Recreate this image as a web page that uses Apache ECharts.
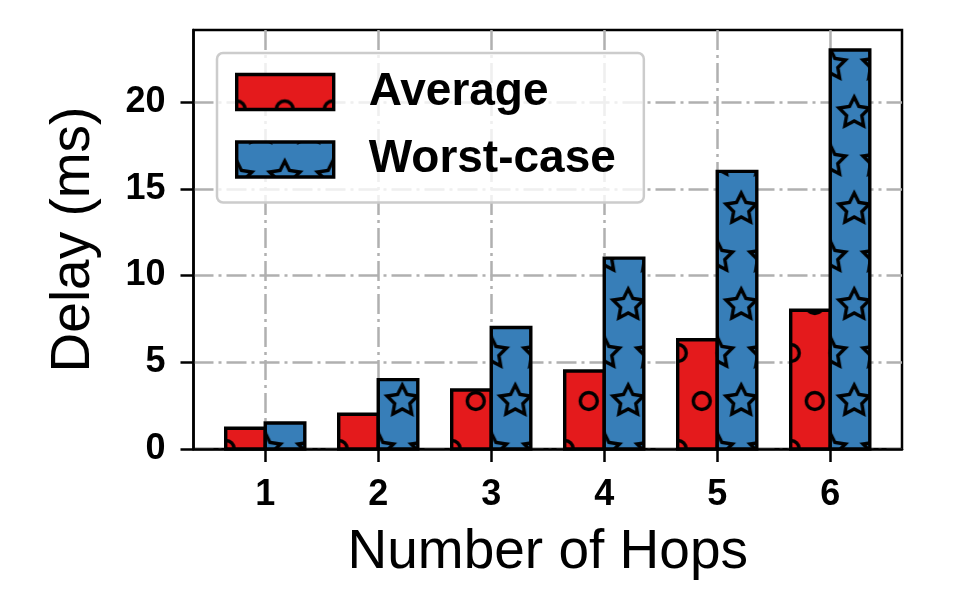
<!DOCTYPE html>
<html>
<head>
<meta charset="utf-8">
<script src="https://cdn.jsdelivr.net/npm/echarts@6/dist/echarts.min.js"></script>
<style>
  html, body { margin: 0; padding: 0; background: #fff; }
  #chart { width: 969px; height: 599px; }
</style>
</head>
<body>
<div id="chart"></div>
<script>
const hops = [1, 2, 3, 4, 5, 6];
const averageDelay = [1.2, 2.0, 3.4, 4.5, 6.3, 8.0];
const worstDelay = [1.5, 4.0, 7.0, 11.0, 16.0, 23.0];
const yTicks = [0, 5, 10, 15, 20];

const FONT = "'Liberation Sans', Arial, Helvetica, sans-serif";
const RED = "#e41a1c";
const BLUE = "#377eb8";
const HATCH = 48;   // hatch cell size in px
const BAR_W = 0.35; // bar width in x units

// hatch tile: shapes on a square grid, every other row shifted by half a cell
function hatchTile(bg, shape) {
  const c = document.createElement("canvas");
  c.width = HATCH;
  c.height = HATCH * 2;
  const ctx = c.getContext("2d");
  ctx.fillStyle = bg;
  ctx.fillRect(0, 0, c.width, c.height);
  ctx.strokeStyle = "#000";
  ctx.lineWidth = 3.4;
  const pts = [[0, 0], [HATCH, 0], [0, 2 * HATCH], [HATCH, 2 * HATCH], [HATCH / 2, HATCH]];
  pts.forEach(([x, y]) => {
    ctx.beginPath();
    if (shape === "circle") {
      ctx.arc(x, y, 8.5, 0, Math.PI * 2);
    } else {
      for (let i = 0; i < 10; i++) {
        const r = i % 2 ? 8 : 16;
        const a = -Math.PI / 2 + i * Math.PI / 5;
        ctx.lineTo(x + r * Math.cos(a), y + r * Math.sin(a));
      }
      ctx.closePath();
    }
    ctx.stroke();
  });
  return c;
}

const redTile = hatchTile(RED, "circle");
const blueTile = hatchTile(BLUE, "star");

// each bar is a group anchored at its bottom-left so the hatch starts there
function barRenderer(tile, side) {
  return function (params, api) {
    const x = api.value(0);
    const v = api.value(1);
    const x0 = side < 0 ? x - BAR_W : x;
    const p0 = api.coord([x0, 0]);
    const p1 = api.coord([x0 + BAR_W, v]);
    return {
      type: "group",
      x: p0[0],
      y: p0[1],
      children: [{
        type: "rect",
        shape: { x: 0, y: p1[1] - p0[1], width: p1[0] - p0[0], height: p0[1] - p1[1] },
        style: { fill: { image: tile, repeat: "repeat" }, stroke: "#000", lineWidth: 3.4 }
      }]
    };
  };
}

const chart = echarts.init(document.getElementById("chart"));
chart.setOption({
  animation: false,
  grid: {
    left: 193.5, right: 67, top: 30, bottom: 150,
    show: true, borderColor: "#000", borderWidth: 2.5
  },
  legend: {
    left: 217, top: 53,
    orient: "vertical",
    icon: "rect",
    itemWidth: 97, itemHeight: 35, itemGap: 21.5,
    padding: [16, 28, 20, 18],
    backgroundColor: "rgba(255,255,255,0.8)",
    borderColor: "#cccccc", borderWidth: 2.5, borderRadius: 6,
    textStyle: { fontSize: 46, fontWeight: "bold", color: "#000", fontFamily: FONT, padding: [0, 0, 0, 30] },
    data: [
      { name: "Average", itemStyle: { color: { image: redTile, repeat: "repeat", y: 35 }, borderColor: "#000", borderWidth: 3.4 } },
      { name: "Worst-case", itemStyle: { color: { image: blueTile, repeat: "repeat", y: 35 }, borderColor: "#000", borderWidth: 3.4 } }
    ]
  },
  xAxis: {
    type: "value",
    min: 0.365, max: 6.635,
    name: "Number of Hops",
    nameLocation: "middle",
    nameGap: 76,
    nameTextStyle: { fontSize: 55, color: "#000", fontFamily: FONT },
    axisLine: { onZero: false, lineStyle: { color: "#000", width: 2.5 } },
    axisTick: { customValues: hops, length: 13, lineStyle: { color: "#000", width: 2.5 } },
    axisLabel: { customValues: hops, margin: 28, fontSize: 36, fontWeight: "bold", color: "#000", fontFamily: FONT },
    splitLine: { show: true, lineStyle: { color: "#b0b0b0", width: 2.5, type: [20, 5, 3, 5] } }
  },
  yAxis: {
    type: "value",
    min: 0, max: 24.15,
    name: "Delay (ms)",
    nameLocation: "middle",
    nameGap: 92,
    nameTextStyle: { fontSize: 55, color: "#000", fontFamily: FONT },
    axisLine: { lineStyle: { color: "#000", width: 2.5 } },
    axisTick: { customValues: yTicks, length: 13, lineStyle: { color: "#000", width: 2.5 } },
    axisLabel: { customValues: yTicks, margin: 28, fontSize: 36, fontWeight: "bold", color: "#000", fontFamily: FONT },
    splitLine: { show: true, lineStyle: { color: "#b0b0b0", width: 2.5, type: [20, 5, 3, 5] } }
  },
  series: [
    {
      name: "Average",
      type: "custom",
      itemStyle: { color: RED },
      encode: { x: 0, y: 1 },
      data: hops.map((h, i) => [h, averageDelay[i]]),
      renderItem: barRenderer(redTile, -1)
    },
    {
      name: "Worst-case",
      type: "custom",
      itemStyle: { color: BLUE },
      encode: { x: 0, y: 1 },
      data: hops.map((h, i) => [h, worstDelay[i]]),
      renderItem: barRenderer(blueTile, 1)
    }
  ]
});
</script>
</body>
</html>
